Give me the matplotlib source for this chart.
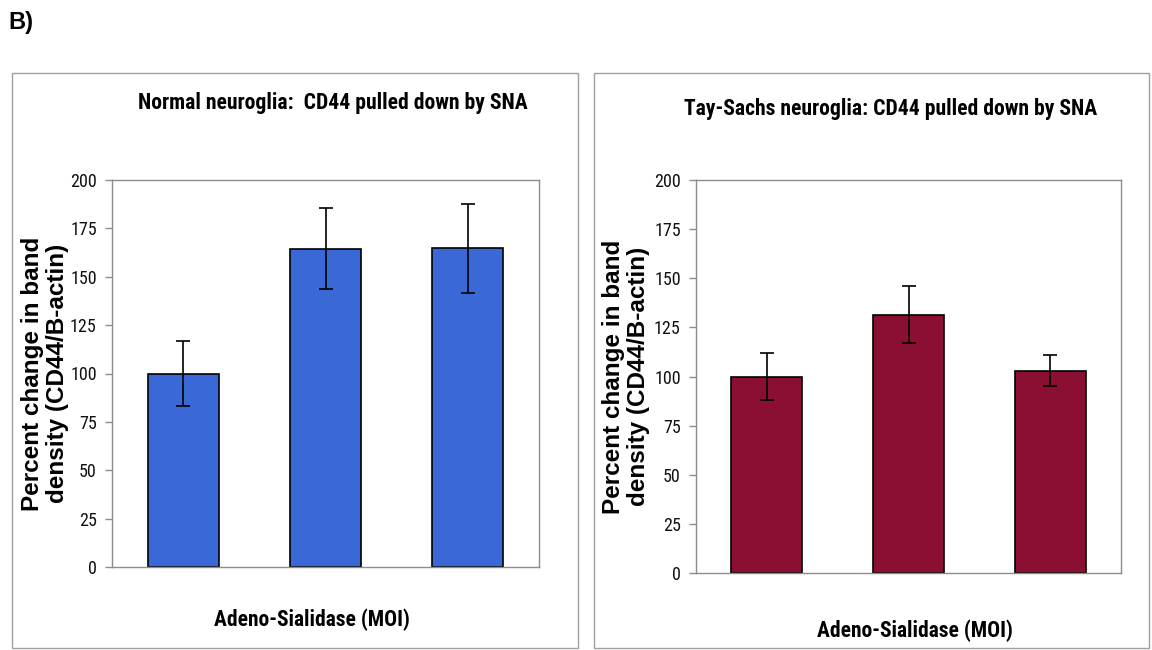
import matplotlib.pyplot as plt
from matplotlib import font_manager
from matplotlib.patches import Rectangle

# Band density data (% of control), three Adeno-Sialidase doses per cell type
doses = ['low', 'mid', 'high']
normal_mean = [100, 164.5, 164.7]
normal_err = [17, 21, 23]
taysachs_mean = [100, 131.5, 103]
taysachs_err = [12, 14.5, 8]

W, H = 1152, 650
ylabel = 'Percent change in band\ndensity (CD44/B-actin)'

# prefer a condensed face for titles / ticks if one is installed
installed = {f.name for f in font_manager.fontManager.ttflist}
narrow_face = next((n for n in ['Liberation Sans Narrow', 'Arial Narrow', 'Roboto Condensed',
                                'Open Sans Condensed'] if n in installed), None)
if narrow_face:
    narrow, tsize, xsize, ksize = [narrow_face, 'DejaVu Sans'], 15.6, 15.5, 13
else:
    narrow, tsize, xsize, ksize = ['Liberation Sans', 'DejaVu Sans'], 12.5, 13.5, 12

fig = plt.figure(figsize=(W / 100, H / 100), dpi=100)
fig.patch.set_facecolor('white')


def px(x0, y0, x1, y1):
    # pixel box -> figure fraction rect
    return [x0 / W, 1 - y1 / H, (x1 - x0) / W, (y1 - y0) / H]


def panel(frame, box, means, errs, color, title, title_xy, xlab_xy, ylab_x):
    fx0, fy0, fx1, fy1 = frame
    fig.patches.append(Rectangle((fx0 / W, 1 - fy1 / H), (fx1 - fx0) / W, (fy1 - fy0) / H,
                                 transform=fig.transFigure, fill=False,
                                 edgecolor='#a0a0a0', linewidth=1.0))
    ax = fig.add_axes(px(*box))
    ax.bar(range(len(means)), means, width=0.5, color=color, edgecolor='black',
           linewidth=1.2, yerr=errs, capsize=5,
           error_kw=dict(ecolor='black', elinewidth=1.2, capthick=1.2))
    ax.set_xlim(-0.5, len(means) - 0.5)
    ax.set_ylim(0, 200)
    ax.set_yticks(range(0, 201, 25))
    ax.set_xticks([])
    for s in ax.spines.values():
        s.set_color('#8c8c8c')
        s.set_linewidth(1.0)
    ax.tick_params(axis='y', direction='out', length=5, width=1, color='#8c8c8c',
                   pad=6, labelsize=ksize, labelcolor='#111111')
    for t in ax.get_yticklabels():
        t.set_family(narrow)
    fig.text(title_xy[0] / W, 1 - title_xy[1] / H, title, ha='center', va='center',
             family=narrow, fontweight='bold', fontsize=tsize)
    fig.text(xlab_xy[0] / W, 1 - xlab_xy[1] / H, 'Adeno-Sialidase (MOI)', ha='center',
             va='center', family=narrow, fontweight='bold', fontsize=xsize)
    fig.text(ylab_x / W, 1 - (box[1] + box[3]) / 2 / H, ylabel, rotation=90,
             ha='center', va='center', fontweight='bold', fontsize=17.5,
             family=['Liberation Sans', 'DejaVu Sans'], linespacing=1.1)
    return ax


panel((12, 73, 578, 648), (112, 180, 539, 567), normal_mean, normal_err, '#3a68d6',
      'Normal neuroglia:  CD44 pulled down by SNA', (333, 103), (312, 620), 45)
panel((594, 73, 1149, 648), (696, 180, 1121, 573), taysachs_mean, taysachs_err, '#8a0f33',
      'Tay-Sachs neuroglia: CD44 pulled down by SNA', (891, 109), (915, 631), 626)

fig.text(8 / W, 1 - 22 / H, 'B)', ha='left', va='center', fontweight='bold',
         fontsize=17, family=['Liberation Sans', 'DejaVu Sans'])

fig.savefig('out.png', dpi=100, facecolor='white')
